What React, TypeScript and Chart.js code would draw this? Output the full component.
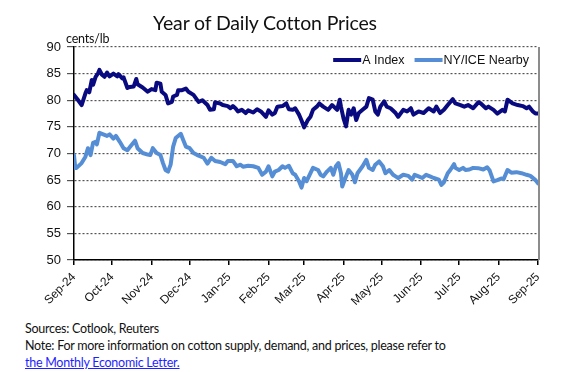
import React, { useEffect, useRef } from "react";
import { Chart, registerables } from "chart.js";

Chart.register(...registerables);

// Days since 1 Sep 2024 for each month tick
const monthDays = [0, 30, 61, 91, 122, 153, 181, 212, 242, 273, 303, 334, 365];
const monthLabels = ["Sep-24", "Oct-24", "Nov-24", "Dec-24", "Jan-25", "Feb-25", "Mar-25", "Apr-25", "May-25", "Jun-25", "Jul-25", "Aug-25", "Sep-25"];

const yMin = 50;
const yMax = 90;
const yStep = 5;

// A Index (cents/lb), day offsets since 1 Sep 2024
const aIndexDays = [0, 3, 6, 9, 10, 12, 14, 15, 17, 19, 20, 22, 24, 26, 28, 31, 34, 35, 38, 39, 42, 44, 47, 49, 50, 54, 58, 61, 64, 65, 68, 69, 72, 74, 77, 78, 81, 82, 85, 88, 90, 94, 98, 101, 105, 107, 110, 111, 115, 117, 121, 123, 125, 127, 129, 132, 135, 137, 141, 144, 147, 151, 153, 156, 158, 160, 164, 167, 169, 172, 174, 177, 179, 181, 184, 186, 188, 191, 193, 196, 200, 203, 207, 209, 210, 212, 214, 216, 218, 220, 222, 224, 227, 230, 232, 235, 237, 239, 241, 244, 246, 249, 253, 255, 259, 262, 265, 267, 271, 275, 279, 283, 285, 288, 291, 294, 298, 300, 304, 307, 310, 314, 318, 320, 324, 326, 330, 333, 337, 339, 341, 345, 349, 353, 356, 358, 361, 363, 365];
const aIndexValues = [81.0, 80.1, 79.1, 81.3, 81.9, 81.5, 83.8, 82.9, 84.4, 85.1, 85.7, 84.8, 84.4, 85.2, 84.5, 85.0, 84.5, 84.9, 84.1, 84.3, 82.3, 82.5, 82.6, 84.0, 83.0, 82.4, 81.6, 82.1, 81.9, 83.3, 83.1, 81.6, 81.0, 79.4, 79.7, 80.7, 81.0, 81.9, 81.9, 82.2, 81.6, 81.0, 79.7, 80.0, 79.1, 78.2, 78.3, 79.6, 79.4, 79.1, 78.9, 78.5, 78.9, 78.5, 77.9, 78.2, 77.6, 78.1, 77.7, 78.3, 77.9, 76.9, 78.1, 77.3, 77.6, 78.8, 78.9, 79.4, 78.3, 78.2, 78.5, 77.3, 76.2, 74.9, 76.3, 76.9, 78.2, 78.8, 79.4, 78.8, 78.2, 79.1, 78.2, 80.1, 78.8, 76.6, 75.1, 78.2, 77.3, 78.5, 76.3, 77.6, 78.2, 78.8, 80.4, 80.1, 77.9, 77.3, 78.8, 79.8, 78.8, 78.5, 77.6, 76.9, 78.2, 77.9, 78.5, 77.3, 77.9, 77.6, 78.5, 77.9, 78.8, 77.6, 78.2, 79.1, 80.2, 79.4, 79.1, 78.8, 79.1, 78.5, 79.6, 79.4, 78.5, 78.8, 78.2, 77.5, 78.2, 77.9, 80.1, 79.4, 79.1, 78.9, 78.5, 78.8, 77.9, 77.5, 77.5];

// NY/ICE Nearby (cents/lb)
const nyDays = [0, 1, 2, 6, 9, 11, 13, 15, 17, 18, 20, 23, 26, 28, 31, 33, 36, 39, 42, 44, 48, 50, 54, 58, 60, 62, 65, 68, 70, 72, 74, 76, 78, 80, 84, 86, 88, 91, 94, 97, 99, 102, 105, 108, 111, 115, 119, 121, 125, 128, 131, 133, 137, 141, 145, 148, 151, 153, 156, 158, 161, 164, 166, 169, 172, 174, 177, 179, 181, 183, 186, 188, 192, 194, 196, 199, 202, 204, 206, 208, 210, 211, 214, 216, 219, 221, 223, 227, 230, 232, 235, 237, 240, 243, 245, 248, 251, 253, 255, 259, 263, 266, 268, 271, 274, 277, 280, 283, 287, 289, 291, 294, 296, 299, 300, 303, 306, 308, 311, 314, 318, 322, 325, 327, 330, 333, 336, 338, 341, 344, 348, 352, 356, 359, 363, 365];
const nyValues = [69.7, 67.3, 67.3, 68.2, 69.4, 71.0, 69.7, 72.0, 72.2, 71.7, 73.9, 73.6, 73.3, 73.6, 72.8, 73.3, 72.2, 71.0, 70.6, 71.2, 72.4, 71.0, 70.1, 69.8, 69.7, 71.0, 70.1, 69.7, 68.2, 66.9, 66.6, 67.9, 71.3, 72.9, 73.7, 72.5, 71.3, 71.0, 70.1, 69.7, 69.5, 69.2, 68.1, 69.2, 68.6, 68.4, 68.0, 68.6, 68.6, 67.6, 67.9, 67.5, 67.7, 67.6, 67.3, 66.0, 66.6, 67.6, 65.7, 66.6, 66.9, 67.6, 67.3, 67.7, 66.3, 66.0, 64.8, 63.6, 65.4, 64.8, 66.3, 67.3, 66.9, 66.0, 65.7, 66.6, 67.3, 66.0, 67.6, 68.2, 66.3, 63.8, 65.7, 66.9, 66.0, 64.6, 66.3, 67.6, 68.8, 67.3, 66.9, 67.9, 68.5, 67.6, 66.3, 66.9, 66.0, 65.7, 65.4, 66.0, 65.8, 65.1, 66.0, 65.7, 65.4, 66.0, 65.7, 65.4, 65.1, 64.1, 64.6, 66.3, 66.9, 68.0, 67.3, 66.9, 67.3, 66.9, 67.0, 67.3, 67.25, 67.0, 67.4, 66.8, 64.75, 65.0, 65.3, 65.2, 66.9, 66.4, 66.5, 66.3, 66.0, 65.8, 65.0, 64.4];

const seriesNames = ["A Index", "NY/ICE Nearby"];
const seriesColors = ["#0a0a80", "#558ed5"];

const tickFont = '"Liberation Sans", Arial, sans-serif';
const textFont = 'Lato, "Noto Sans", sans-serif';

const insideLegend = {
  id: "insideLegend",
  afterDatasetsDraw(chart: any) {
    const { ctx, chartArea } = chart;
    ctx.save();
    ctx.font = `12.5px ${tickFont}`;
    const lineLen = 28;
    const gapText = 1;
    const gapItems = 10;
    const items = chart.data.datasets.map((d: any) => ({
      label: d.label as string,
      color: d.borderColor as string,
      w: ctx.measureText(d.label).width,
    }));
    let total = 0;
    items.forEach((it: any, i: number) => {
      total += lineLen + gapText + it.w + (i > 0 ? gapItems : 0);
    });
    let x = chartArea.right - 9 - total;
    const y = chartArea.top + 13;
    items.forEach((it: any) => {
      ctx.strokeStyle = it.color;
      ctx.lineWidth = 4;
      ctx.lineCap = "butt";
      ctx.beginPath();
      ctx.moveTo(x, y);
      ctx.lineTo(x + lineLen, y);
      ctx.stroke();
      ctx.fillStyle = "#111";
      ctx.textBaseline = "middle";
      ctx.textAlign = "left";
      ctx.fillText(it.label, x + lineLen + gapText, y + 0.5);
      x += lineLen + gapText + it.w + gapItems;
    });
    ctx.restore();
  },
};

const rightBorder = {
  id: "rightBorder",
  afterDraw(chart: any) {
    const { ctx, chartArea } = chart;
    ctx.save();
    ctx.strokeStyle = "#8c8c8c";
    ctx.lineWidth = 2;
    ctx.beginPath();
    ctx.moveTo(chartArea.right + 1, chartArea.top);
    ctx.lineTo(chartArea.right + 1, chartArea.bottom);
    ctx.stroke();
    ctx.restore();
  },
};

export default function App() {
  const ref = useRef<HTMLCanvasElement>(null);

  useEffect(() => {
    if (!ref.current) return;
    const chart = new Chart(ref.current, {
      type: "line",
      data: {
        datasets: [
          {
            label: seriesNames[0],
            data: aIndexDays.map((d, i) => ({ x: d, y: aIndexValues[i] })),
            borderColor: seriesColors[0],
            backgroundColor: seriesColors[0],
            borderWidth: 4,
            pointRadius: 0,
            tension: 0,
            borderJoinStyle: "round",
            borderCapStyle: "round",
          },
          {
            label: seriesNames[1],
            data: nyDays.map((d, i) => ({ x: d, y: nyValues[i] })),
            borderColor: seriesColors[1],
            backgroundColor: seriesColors[1],
            borderWidth: 4,
            pointRadius: 0,
            tension: 0,
            borderJoinStyle: "round",
            borderCapStyle: "round",
          },
        ],
      },
      options: {
        responsive: false,
        animation: false,
        layout: { padding: { top: 47, left: 0, right: 40, bottom: 0 } },
        plugins: {
          legend: { display: false },
          title: { display: false },
          tooltip: { enabled: false },
        },
        scales: {
          x: {
            type: "linear",
            min: monthDays[0],
            max: monthDays[monthDays.length - 1],
            afterBuildTicks: (scale: any) => {
              scale.ticks = monthDays.map((v) => ({ value: v }));
            },
            afterFit: (scale: any) => {
              scale.height = 50;
            },
            ticks: {
              autoSkip: false,
              maxRotation: 45,
              minRotation: 45,
              padding: 5,
              color: "#111",
              font: { family: tickFont, size: 12 },
              callback: (v: any) => {
                const i = monthDays.indexOf(Number(v));
                return i >= 0 ? monthLabels[i] : "";
              },
            },
            grid: {
              drawOnChartArea: false,
              drawTicks: true,
              tickLength: 5,
              tickColor: "#000",
              lineWidth: 1.5,
            },
            border: { display: true, color: "#000", width: 1.5 },
          },
          y: {
            min: yMin,
            max: yMax,
            afterFit: (scale: any) => {
              scale.width = 74;
            },
            ticks: {
              stepSize: yStep,
              padding: 6,
              color: "#111",
              font: { family: tickFont, size: 13 },
            },
            grid: {
              color: "#555",
              lineWidth: 1.2,
              tickLength: 7,
              tickColor: "#555",
            },
            border: { display: true, color: "#000", width: 1.5, dash: [2, 2] },
          },
        },
      },
      plugins: [insideLegend, rightBorder],
    });
    return () => chart.destroy();
  }, []);

  return (
    <div
      style={{
        position: "fixed",
        left: 0,
        top: 0,
        width: 578,
        height: 372,
        background: "#fff",
        overflow: "hidden",
        fontFamily: textFont,
        color: "#111",
      }}
    >
      <canvas ref={ref} width={578} height={310} style={{ position: "absolute", left: 0, top: 0, width: 578, height: 310 }} />
      <div
        style={{
          position: "absolute",
          left: 0,
          top: 11,
          width: 530,
          textAlign: "center",
          fontSize: 19.5,
          lineHeight: "24px",
          letterSpacing: "-0.15px",
          whiteSpace: "nowrap",
        }}
      >
        Year of Daily Cotton Prices
      </div>
      <div style={{ position: "absolute", left: 66, top: 31, fontSize: 12.5, lineHeight: "16px", letterSpacing: "-0.2px", whiteSpace: "nowrap" }}>
        cents/lb
      </div>
      <div style={{ position: "absolute", left: 25, top: 320, fontSize: 12.5, lineHeight: "17px", letterSpacing: "-0.26px", whiteSpace: "nowrap" }}>
        <div>Sources: Cotlook, Reuters</div>
        <div>Note: For more information on cotton supply, demand, and prices, please refer to</div>
        <div>
          <a href="#" style={{ color: "#1f1fff", textDecoration: "underline" }}>
            the Monthly Economic Letter.
          </a>
        </div>
      </div>
    </div>
  );
}
